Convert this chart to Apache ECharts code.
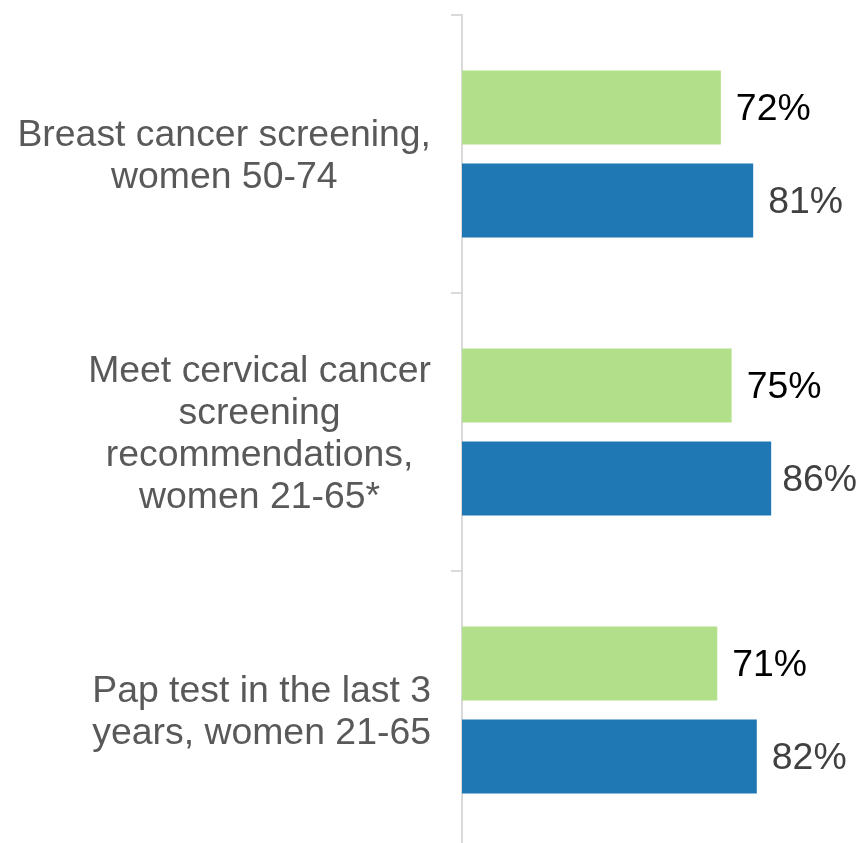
<!DOCTYPE html>
<html>
<head>
<meta charset="utf-8">
<title>Cancer screening</title>
<script src="https://cdn.jsdelivr.net/npm/echarts@6/dist/echarts.min.js"></script>
<style>
  html, body { margin: 0; padding: 0; background: #ffffff; }
  #chart { width: 859px; height: 843px; }
</style>
</head>
<body>
<div id="chart"></div>
<script>
// Screening categories, top to bottom
const categories = [
  'Breast cancer screening,\nwomen 50-74',
  'Meet cervical cancer\nscreening\nrecommendations,\nwomen 21-65*',
  'Pap test in the last 3\nyears, women 21-65'
];
// Percent of women screened, two groups
const groupA = [72, 75, 71];
const groupB = [81, 86, 82];

const FONT = '"Liberation Sans", Arial, Helvetica, sans-serif';

const chart = echarts.init(document.getElementById('chart'), null, { renderer: 'canvas' });

// Each line of a category name is its own rich token so it centres within the block
function centeredLines(value) {
  return value.split('\n').map(l => '{c|' + l + '}').join('\n');
}

// The longest bar keeps its label a little tighter so it fits inside the canvas
const longest = Math.max(...groupB);
const groupBData = groupB.map(v => v === longest ? { value: v, label: { distance: 11 } } : v);

chart.setOption({
  animation: false,
  backgroundColor: '#ffffff',
  grid: {
    left: 462, top: 15, width: 359.5, height: 834,
    containLabel: false,
    outerBoundsMode: 'none'
  },
  xAxis: {
    type: 'value',
    min: 0,
    max: 100,
    show: false
  },
  yAxis: {
    type: 'category',
    data: categories,
    inverse: true,
    axisLine: { show: true, lineStyle: { color: '#d9d9d9', width: 2 } },
    axisTick: { show: true, length: 11, lineStyle: { color: '#d9d9d9', width: 2 } },
    axisLabel: {
      margin: 31,
      padding: [5, 0, 0, 0],
      formatter: centeredLines,
      rich: {
        c: {
          align: 'center',
          fontFamily: FONT,
          fontSize: 37.4,
          lineHeight: 42,
          color: '#595959'
        }
      }
    },
    splitLine: { show: false }
  },
  series: [
    {
      type: 'bar',
      data: groupA,
      barWidth: 74,
      barGap: '25.7%',
      itemStyle: { color: '#b2df8a' },
      label: {
        show: true,
        position: 'right',
        distance: 15,
        offset: [0, 2.5],
        formatter: '{c}%',
        fontFamily: FONT,
        fontSize: 37.4,
        color: '#000000'
      }
    },
    {
      type: 'bar',
      data: groupBData,
      barWidth: 74,
      barGap: '25.7%',
      itemStyle: { color: '#1f78b4' },
      label: {
        show: true,
        position: 'right',
        distance: 15,
        offset: [0, 2.5],
        formatter: '{c}%',
        fontFamily: FONT,
        fontSize: 37.4,
        color: '#404040'
      }
    }
  ]
});
</script>
</body>
</html>
